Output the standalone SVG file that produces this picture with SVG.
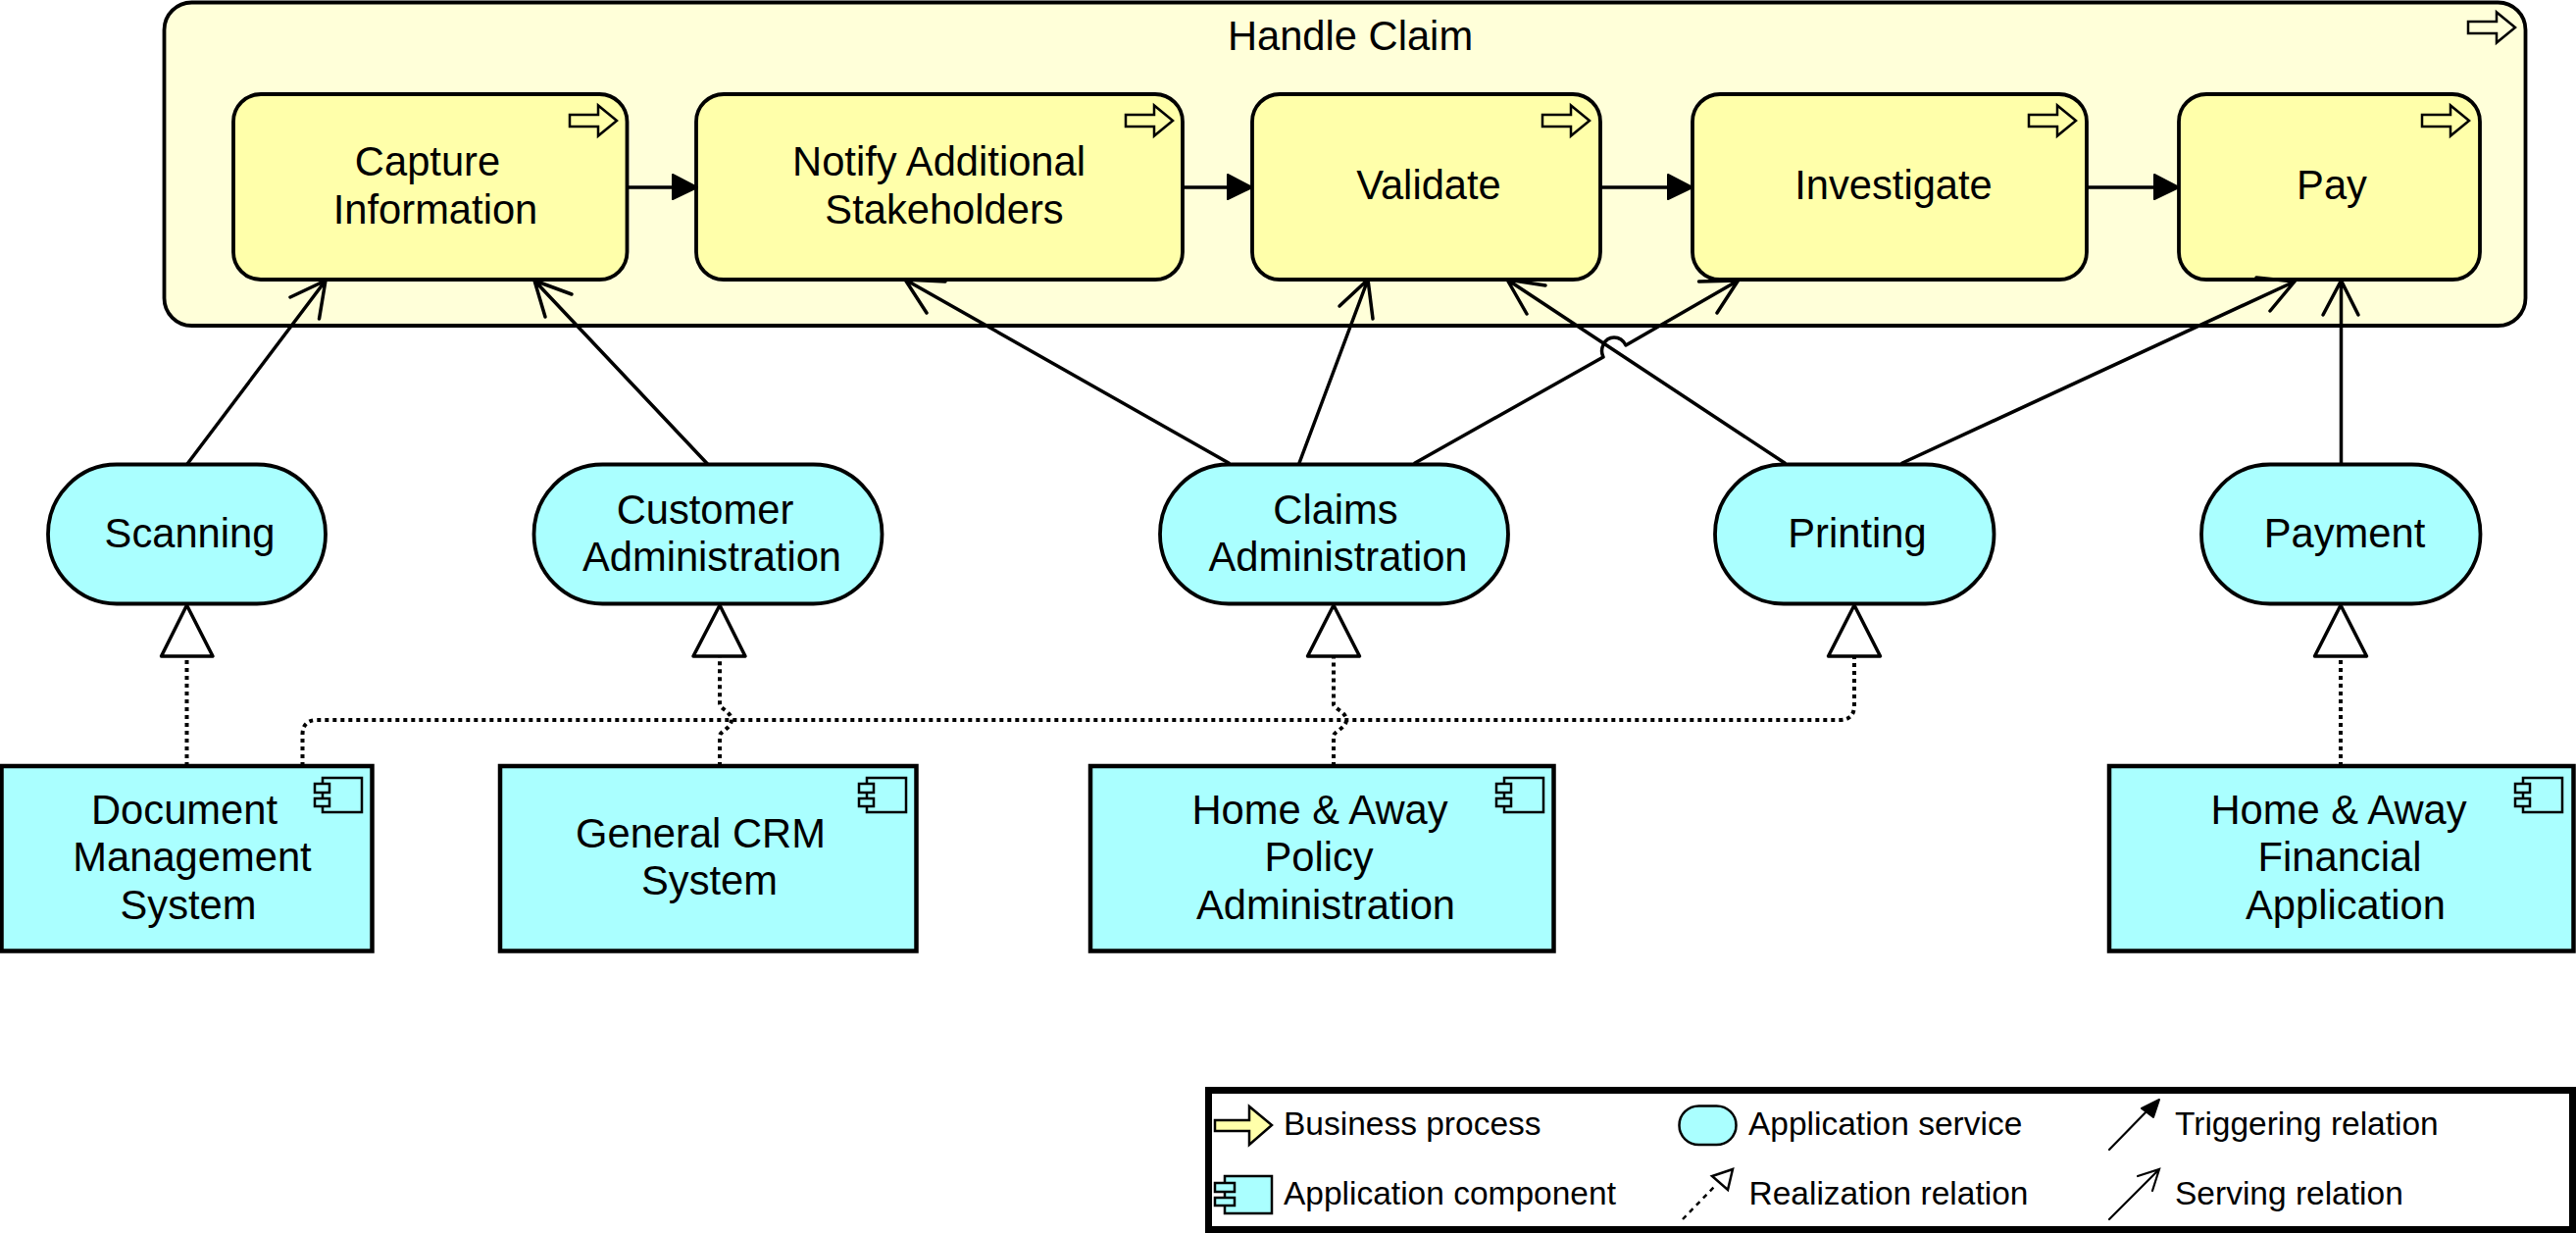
<svg xmlns="http://www.w3.org/2000/svg" xmlns:xlink="http://www.w3.org/1999/xlink" width="2627" height="1257" viewBox="0 0 2627 1257">
<style>
text{font-family:"Liberation Sans",Arial,sans-serif;fill:#000}
.t{font-size:41.7px;text-anchor:middle}
.l{font-size:33.500px}
.box{stroke:#000;stroke-width:3.8}
.group{fill:#ffffd9}
.proc{fill:#ffffaa}
.app{fill:#aaffff}
.compbox{stroke-width:4.5}
.ic{stroke:#000;stroke-width:2.5}
.line{fill:none;stroke:#000;stroke-width:3.5;stroke-linecap:round;stroke-linejoin:round}
.real{fill:none;stroke:#000;stroke-width:4;stroke-dasharray:4 4}
.tri{fill:#fff;stroke:#000;stroke-width:3.5;stroke-linejoin:round}
.fillhead{fill:#000;stroke:#000;stroke-width:2;stroke-linejoin:round}
.trig{fill:none;stroke:#000;stroke-width:3.5}
.thin{fill:none;stroke:#000;stroke-width:2.2;stroke-linecap:round}
</style>
<defs>
<path id="proc-icon" class="ic" d="M0,-6H29V-15.500L48,0L29,15.500V6H0Z"/>
<g id="comp-icon" class="ic">
<rect x="8" y="0" width="40" height="35" fill="none"/>
<rect x="0" y="6" width="15" height="9"/>
<rect x="0" y="21" width="15" height="8"/>
</g>
</defs>

<g id="handle-claim">
<rect class="box group" x="167.500" y="2.500" width="2408" height="329.500" rx="28" ry="28"/>
<use href="#proc-icon" fill="#ffffd9" x="2517" y="28"/>
<text class="t" x="1377" y="51">Handle Claim</text>
</g>

<g id="capture-information">
<rect class="box proc" x="238" y="96" width="401.500" height="189" rx="28" ry="28"/>
<use href="#proc-icon" fill="#ffffaa" x="581" y="123"/>
<text class="t" x="436" y="179">Capture</text>
<text class="t" x="444" y="228">Information</text>
</g>
<g id="notify-stakeholders">
<rect class="box proc" x="710" y="96" width="496" height="189" rx="28" ry="28"/>
<use href="#proc-icon" fill="#ffffaa" x="1148" y="123"/>
<text class="t" x="957.500" y="179">Notify Additional</text>
<text class="t" x="963" y="228">Stakeholders</text>
</g>
<g id="validate">
<rect class="box proc" x="1277" y="96" width="355" height="189" rx="28" ry="28"/>
<use href="#proc-icon" fill="#ffffaa" x="1573" y="123"/>
<text class="t" x="1457" y="203">Validate</text>
</g>
<g id="investigate">
<rect class="box proc" x="1726" y="96" width="402" height="189" rx="28" ry="28"/>
<use href="#proc-icon" fill="#ffffaa" x="2069" y="123"/>
<text class="t" x="1931" y="203">Investigate</text>
</g>
<g id="pay">
<rect class="box proc" x="2222" y="96" width="307" height="189" rx="28" ry="28"/>
<use href="#proc-icon" fill="#ffffaa" x="2470" y="123"/>
<text class="t" x="2378" y="203">Pay</text>
</g>

<g id="scanning">
<rect class="box app" x="49" y="473.500" width="283" height="142" rx="70" ry="71"/>
<text class="t" x="193.500" y="558">Scanning</text>
</g>
<g id="customer-administration">
<rect class="box app" x="544.500" y="473.500" width="355" height="142" rx="70" ry="71"/>
<text class="t" x="719" y="534">Customer</text>
<text class="t" x="726" y="582">Administration</text>
</g>
<g id="claims-administration">
<rect class="box app" x="1183" y="473.500" width="355" height="142" rx="70" ry="71"/>
<text class="t" x="1362" y="534">Claims</text>
<text class="t" x="1364.500" y="582">Administration</text>
</g>
<g id="printing">
<rect class="box app" x="1749" y="473.500" width="284.500" height="142" rx="70" ry="71"/>
<text class="t" x="1894" y="558">Printing</text>
</g>
<g id="payment">
<rect class="box app" x="2245" y="473.500" width="284.500" height="142" rx="70" ry="71"/>
<text class="t" x="2391" y="558">Payment</text>
</g>

<g id="document-management-system">
<rect class="box compbox app" x="1.500" y="781" width="378" height="188.500"/>
<use href="#comp-icon" fill="#aaffff" x="321" y="793"/>
<text class="t" x="188" y="840">Document</text>
<text class="t" x="196" y="888">Management</text>
<text class="t" x="192" y="937">System</text>
</g>
<g id="general-crm-system">
<rect class="box compbox app" x="510" y="781" width="424.500" height="188.500"/>
<use href="#comp-icon" fill="#aaffff" x="876" y="793"/>
<text class="t" x="714.500" y="864">General CRM</text>
<text class="t" x="723.500" y="912">System</text>
</g>
<g id="home-away-policy-administration">
<rect class="box compbox app" x="1112" y="781" width="472.500" height="188.500"/>
<use href="#comp-icon" fill="#aaffff" x="1526" y="793"/>
<text class="t" x="1346" y="840">Home &amp; Away</text>
<text class="t" x="1345" y="888">Policy</text>
<text class="t" x="1352" y="937">Administration</text>
</g>
<g id="home-away-financial-application">
<rect class="box compbox app" x="2151" y="781" width="473.500" height="188.500"/>
<use href="#comp-icon" fill="#aaffff" x="2565" y="793"/>
<text class="t" x="2385" y="840">Home &amp; Away</text>
<text class="t" x="2386" y="888">Financial</text>
<text class="t" x="2392" y="937">Application</text>
</g>

<g id="connectors">
<path class="trig" d="M640,191H690M1206,191H1256M1632,191H1700M2128,191H2200"/>
<path class="fillhead" d="M686,178L711,191L686,203Z"/>
<path class="fillhead" d="M1252,178L1277,191L1252,203Z"/>
<path class="fillhead" d="M1701,178L1726,191L1701,203Z"/>
<path class="fillhead" d="M2197,178L2222,191L2197,203Z"/>
<path class="line" d="M191,473L332,286M296,303L332,286L325.500,325"/>
<path class="line" d="M721.500,473L545,286M583,300L545,286L556,323"/>
<path class="line" d="M1253,472L923,285M964,287L923,285L945,319"/>
<path class="line" d="M1325,472L1395,285M1366,312L1395,285L1400,325"/>
<path class="line" d="M1443,472L1635,364C1631,356 1636,344 1646,344C1652,344 1656,348 1658,352L1772.500,286M1732.500,287L1772.500,286L1751,319"/>
<path class="line" d="M1820,472L1537,285M1576,291L1537,285L1557,320"/>
<path class="line" d="M1940,472L2340,287M2301,283L2340,287L2315,317"/>
<path class="line" d="M2387.500,473V286M2369,321L2387.500,286L2405,321"/>
<path class="real" d="M190.500,781V669"/>
<path class="real" d="M734,781V750C734,746 746,742 746,734C746,726 734,722 734,718V669"/>
<path class="real" d="M1360,781V750C1360,746 1373,742 1373,734C1373,726 1360,722 1360,718V669"/>
<path class="real" d="M2387,781V669"/>
<path class="real" d="M308.500,781V749Q308.500,734 323.500,734H1876Q1891,734 1891,719V669"/>
<polygon class="tri" points="190.500,617 217,669 164.500,669"/>
<polygon class="tri" points="734,617 760,669 707,669"/>
<polygon class="tri" points="1360,617 1386.500,669 1333.500,669"/>
<polygon class="tri" points="1891,617 1917.500,669 1864.500,669"/>
<polygon class="tri" points="2387,617 2413.500,669 2360.500,669"/>
</g>

<g id="legend">
<rect x="1232.500" y="1111.500" width="1391" height="142" fill="#fff" stroke="#000" stroke-width="7"/>
<path class="ic" fill="#ffffaa" d="M1239,1142H1274V1128L1297,1147L1274,1167V1153H1239Z"/>
<text class="l" x="1309" y="1157">Business process</text>
<rect class="ic" fill="#aaffff" x="1249" y="1199" width="48" height="38"/>
<rect class="ic" fill="#aaffff" x="1239" y="1206" width="20" height="9"/>
<rect class="ic" fill="#aaffff" x="1239" y="1221" width="20" height="8"/>
<text class="l" x="1309" y="1228">Application component</text>
<rect class="ic" fill="#aaffff" x="1712.500" y="1127.500" width="58" height="39.500" rx="20" ry="19.500"/>
<text class="l" x="1783" y="1157">Application service</text>
<path d="M1716,1243L1750,1208" fill="none" stroke="#000" stroke-width="2.500" stroke-dasharray="5 5"/>
<polygon points="1767,1192 1746,1199 1762,1213" fill="#fff" stroke="#000" stroke-width="2.500"/>
<text class="l" x="1783.500" y="1228">Realization relation</text>
<path class="thin" d="M2151,1172L2192,1130"/>
<path class="fillhead" d="M2202,1121L2184,1130L2196,1139Z"/>
<text class="l" x="2218" y="1157">Triggering relation</text>
<path class="thin" d="M2151,1243L2202,1192M2180,1199L2202,1192L2195,1214"/>
<text class="l" x="2218" y="1228">Serving relation</text>
</g>
</svg>
